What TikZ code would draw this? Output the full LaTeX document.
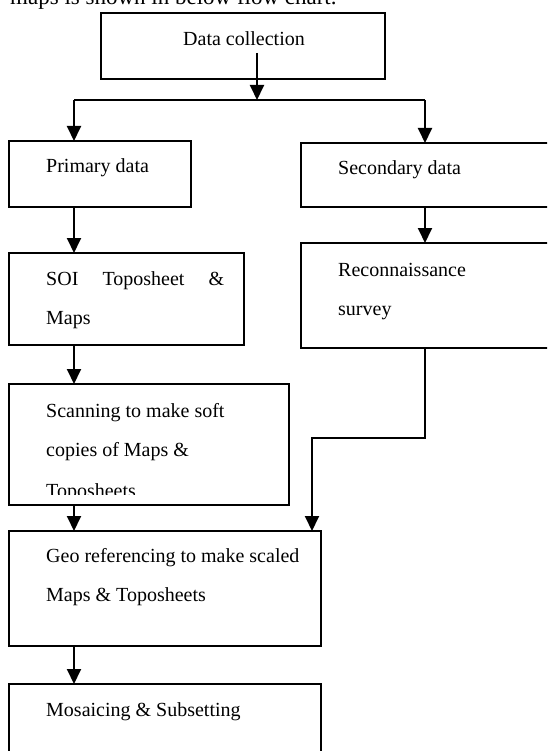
\documentclass[tikz,border=0pt]{standalone}
\usepackage{fontspec}
\setmainfont{Liberation Serif}
\usetikzlibrary{arrows.meta}
\begin{document}
\begin{tikzpicture}[x=1pt,y=-1pt,
  box/.style={draw,line width=1.9pt,inner sep=0pt,outer sep=0pt},
  txt/.style={anchor=base west,inner sep=0pt,font=\fontsize{20}{24}\selectfont},
  flow/.style={line width=1.9pt,-{Triangle[width=14pt,length=15pt]}},
  link/.style={line width=1.9pt}]
\useasboundingbox (0,0) rectangle (547,751);
\clip (0,0) rectangle (547,751);
% partial header text
\node[txt,font=\fontsize{23}{27}\selectfont] (hdr) at (10,4.5) {maps is shown in below flow chart.};
% boxes
\node[box,minimum width=284pt,minimum height=66pt] (dc) at (243,46) {};
\node[box,minimum width=182pt,minimum height=66pt] (pd) at (100,174) {};
\node[box,minimum width=259pt,minimum height=64pt] (sd) at (430.5,175) {};
\node[box,minimum width=235pt,minimum height=92pt] (soi) at (126.5,299) {};
\node[box,minimum width=259pt,minimum height=105pt] (rs) at (430.5,295.5) {};
\node[box,minimum width=280pt,minimum height=121pt] (sc) at (149,444.5) {};
\node[box,minimum width=312pt,minimum height=115pt] (geo) at (165,588.5) {};
\node[box,minimum width=312pt,minimum height=86pt] (mos) at (165,727) {};
% texts
\node[txt] (t1) at (183,46) {Data collection};
\node[txt] (t2) at (46,172.7) {Primary data};
\node[txt] (t3) at (338,175) {Secondary data};
\node[txt] (t4) at (46,285.7) {\hbox to 178pt{SOI\hfil Toposheet\hfil\&}};
\node[txt] (t5) at (46,324) {Maps};
\node[txt] (t6) at (338,276.5) {Reconnaissance};
\node[txt] (t7) at (338,315.5) {survey};
\node[txt] (t8) at (46,417.3) {Scanning to make soft};
\node[txt] (t9) at (46,456.7) {copies of Maps \&};
\begin{scope}
\clip (0,0) rectangle (547,494.5);
\node[txt] (t10) at (46,497) {Toposheets};
\end{scope}
\node[txt] (t11) at (46,562.7) {Geo referencing to make scaled};
\node[txt] (t12) at (46,601) {Maps \& Toposheets};
\node[txt] (t13) at (46,716.7) {Mosaicing \& Subsetting};
% connectors
\coordinate (dcs) at (257,53);
\coordinate (jm) at (257,100);
\coordinate (jl) at (74,100);
\coordinate (jr) at (425,100);
\coordinate (rb) at (425,438);
\coordinate (rl) at (312,438);
\draw[flow] (dcs) -- (jm);
\draw[link] (jl) -- (jr);
\draw[flow] (jl) -- (jl |- pd.north);
\draw[flow] (jr) -- (jr |- sd.north);
\draw[flow] (jl |- pd.south) -- (jl |- soi.north);
\draw[flow] (jr |- sd.south) -- (jr |- rs.north);
\draw[flow] (jl |- soi.south) -- (jl |- sc.north);
\draw[flow] (jl |- sc.south) -- (jl |- geo.north);
\draw[flow] (jr |- rs.south) -- (rb) -- (rl) -- (rl |- geo.north);
\draw[flow] (jl |- geo.south) -- (jl |- mos.north);
\end{tikzpicture}
\end{document}
